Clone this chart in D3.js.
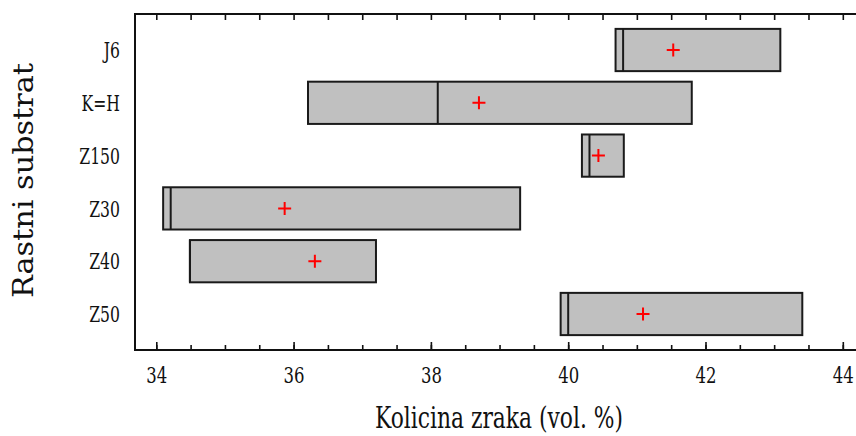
<!DOCTYPE html>
<html><head><meta charset="utf-8">
<script src="https://cdn.jsdelivr.net/npm/d3@7"></script>
<style>
html,body{margin:0;padding:0;background:#fff;}
svg{display:block;}
</style></head>
<body>
<svg id="chart" width="856" height="436"></svg>
<script>
const categories = ["J6", "K=H", "Z150", "Z30", "Z40", "Z50"];
const minVals    = [40.69, 36.21, 40.20, 34.10, 34.49, 39.89];
const medianVals = [40.80, 38.10, 40.31, 34.21, 34.49, 40.00];
const maxVals    = [43.09, 41.80, 40.81, 39.30, 37.20, 43.41];
const meanVals   = [41.53, 38.70, 40.44, 35.87, 36.31, 41.09];
const xMajorTicks = [34, 36, 38, 40, 42, 44];
const xMinorTicks = d3.range(34, 44.01, 0.5);
const xTitle = "Kolicina zraka (vol. %)";
const yTitle = "Rastni substrat";

const rows = categories.map((c, i) => ({cat: c, min: minVals[i], med: medianVals[i], max: maxVals[i], mean: meanVals[i]}));

const svg = d3.select("#chart");
const mLeft = 135, mTop = 14, mBottom = 350;
const x = d3.scaleLinear().domain([33.69, 44.3]).range([mLeft, 863.4]);
const y = d3.scaleBand().domain(categories).range([mTop, mBottom]).paddingInner(0.2).paddingOuter(0.282);

const serif = "'DejaVu Serif', 'Liberation Serif', serif";

// bars
const g = svg.append("g");
g.selectAll("rect.box").data(rows).join("rect")
  .attr("class", "box")
  .attr("x", d => x(d.min)).attr("y", d => y(d.cat))
  .attr("width", d => x(d.max) - x(d.min)).attr("height", y.bandwidth())
  .attr("fill", "#c0c0c0").attr("stroke", "#1a1a1a").attr("stroke-width", 2);
g.selectAll("line.med").data(rows).join("line")
  .attr("class", "med")
  .attr("x1", d => x(d.med)).attr("x2", d => x(d.med))
  .attr("y1", d => y(d.cat)).attr("y2", d => y(d.cat) + y.bandwidth())
  .attr("stroke", "#1a1a1a").attr("stroke-width", 2);
const ps = 6.5;
g.selectAll("path.mean").data(rows).join("path")
  .attr("class", "mean")
  .attr("d", d => {
    const cx = x(d.mean), cy = y(d.cat) + y.bandwidth() / 2;
    return `M${cx - ps},${cy}H${cx + ps}M${cx},${cy - ps}V${cy + ps}`;
  })
  .attr("stroke", "#ff0000").attr("stroke-width", 2).attr("fill", "none");

// axes
function styleAxis(sel) {
  sel.select(".domain").attr("stroke", "#111").attr("stroke-width", 2);
  sel.selectAll(".tick line").attr("stroke", "#111").attr("stroke-width", 1.6);
}
// bottom minor ticks
const bMinor = svg.append("g").attr("transform", `translate(0,${mBottom})`)
  .call(d3.axisBottom(x).tickValues(xMinorTicks).tickSize(-5).tickSizeOuter(0).tickFormat(""));
styleAxis(bMinor);
bMinor.select(".domain").attr("d", `M${mLeft},0H856`);
// bottom major ticks with labels
const bMajor = svg.append("g").attr("transform", `translate(0,${mBottom})`)
  .call(d3.axisBottom(x).tickValues(xMajorTicks).tickSize(-8).tickSizeOuter(0).tickFormat(d3.format("d")));
bMajor.select(".domain").remove();
bMajor.selectAll(".tick line").attr("stroke", "#111").attr("stroke-width", 1.6);
bMajor.selectAll(".tick text")
  .attr("y", 0).attr("dy", 0)
  .attr("transform", "translate(0,33) scale(0.75,1)")
  .attr("font-family", serif).attr("font-size", 22).attr("fill", "#111");

// top ticks
const tAx = svg.append("g").attr("transform", `translate(0,${mTop})`)
  .call(d3.axisTop(x).tickValues(xMinorTicks).tickSize(-6).tickSizeOuter(0).tickFormat(""));
styleAxis(tAx);
tAx.select(".domain").attr("d", `M${mLeft},0H856`);

// left axis
const lAx = svg.append("g").attr("transform", `translate(${mLeft},0)`)
  .call(d3.axisLeft(y).tickSize(0).tickSizeOuter(0));
styleAxis(lAx);
lAx.select(".domain").attr("d", `M0,${mTop - 1}V${mBottom + 1}`);
const ySx = 0.68;
lAx.selectAll(".tick text")
  .attr("x", -15 / ySx).attr("dy", "0.36em")
  .attr("transform", `scale(${ySx},1)`)
  .attr("font-family", serif).attr("font-size", 23).attr("fill", "#111");

// titles
svg.append("text")
  .attr("x", 499).attr("y", 428)
  .attr("text-anchor", "middle")
  .attr("font-family", serif).attr("font-size", 29)
  .attr("textLength", 248).attr("lengthAdjust", "spacingAndGlyphs")
  .attr("fill", "#111").text(xTitle);

svg.append("text")
  .attr("transform", "translate(33,180.5) rotate(-90)")
  .attr("text-anchor", "middle")
  .attr("font-family", serif).attr("font-size", 27)
  .attr("textLength", 235).attr("lengthAdjust", "spacingAndGlyphs")
  .attr("fill", "#111").text(yTitle);
</script>
</body></html>
